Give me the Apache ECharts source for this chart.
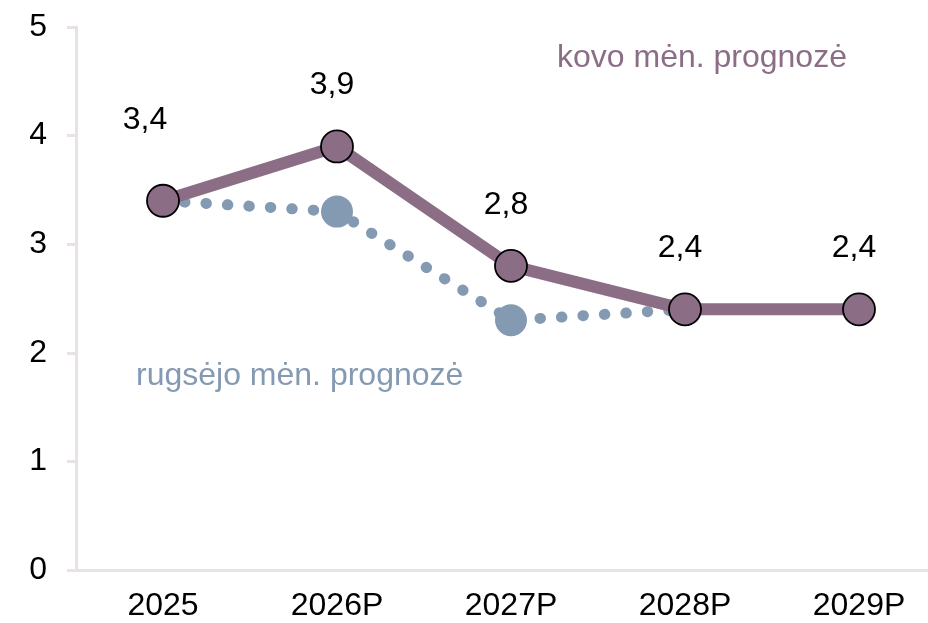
<!DOCTYPE html>
<html><head><meta charset="utf-8">
<script src="https://cdn.jsdelivr.net/npm/echarts@6/dist/echarts.min.js"></script>
<style>html,body{margin:0;padding:0;background:#fff}#c{width:928px;height:623px}</style>
</head><body><div id="c"></div>
<script>
var categories = ['2025', '2026P', '2027P', '2028P', '2029P'];
var kovoValues = [3.4, 3.9, 2.8, 2.4, 2.4];
var rugsejoValues = [3.4, 3.3, 2.3, 2.4, null];
var yTicks = [0, 1, 2, 3, 4, 5];
var kovoName = 'kovo mėn. prognozė';
var rugsejoName = 'rugsėjo mėn. prognozė';

var PURPLE = '#8b6d86', BLUE = '#8499b2', AXIS = '#e8e2e6';
var FONT = 'Liberation Sans, Arial, sans-serif';
var FS = 32;

var chart = echarts.init(document.getElementById('c'));
chart.setOption({
  animation: false,
  grid: { left: 76, width: 870, top: 27, height: 543, outerBoundsMode: 'none', containLabel: false },
  xAxis: {
    type: 'category', data: categories, boundaryGap: true,
    axisLine: { lineStyle: { color: AXIS, width: 3 } },
    axisTick: { inside: true, length: 8, lineStyle: { color: AXIS, width: 3 } },
    axisLabel: { color: '#000', fontSize: FS, fontFamily: FONT, margin: 20 }
  },
  yAxis: {
    type: 'value', min: yTicks[0], max: yTicks[yTicks.length - 1], interval: 1,
    splitLine: { show: false },
    axisLine: { show: true, lineStyle: { color: AXIS, width: 3 } },
    axisTick: { show: true, length: 9, lineStyle: { color: AXIS, width: 3 } },
    axisLabel: { color: '#000', fontSize: FS, fontFamily: FONT, margin: 29 }
  },
  graphic: [
    { type: 'text', left: 557, top: 42, style: { text: kovoName, fill: PURPLE, font: FS + 'px ' + FONT } },
    { type: 'text', left: 136, top: 360, style: { text: rugsejoName, fill: BLUE, font: FS + 'px ' + FONT } }
  ],
  series: [
    {
      name: rugsejoName, type: 'line', data: rugsejoValues, z: 2,
      symbol: 'circle', symbolSize: 32,
      itemStyle: { color: BLUE },
      lineStyle: { color: BLUE, width: 11, type: [0.5, 21], cap: 'round' }
    },
    {
      name: kovoName, type: 'line', data: kovoValues.map(function (v, i) {
        return i === 0 ? { value: v, label: { offset: [-18, -20] } } : v;
      }), z: 3,
      symbol: 'circle', symbolSize: 32,
      itemStyle: { color: PURPLE, borderColor: '#000', borderWidth: 1.8 },
      lineStyle: { color: PURPLE, width: 12 },
      label: {
        show: true, position: 'top', distance: 28, offset: [-5, 0],
        color: '#000', fontSize: FS, fontFamily: FONT,
        formatter: function (p) { return String(p.value).replace('.', ','); }
      }
    }
  ]
});
</script></body></html>
